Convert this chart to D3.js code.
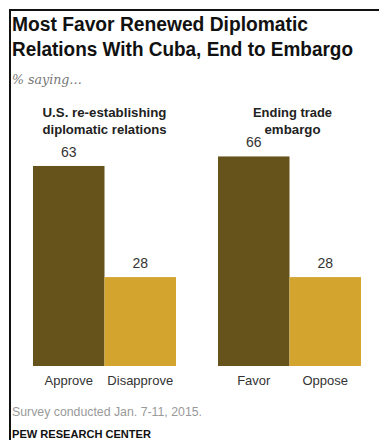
<!DOCTYPE html>
<html>
<head>
<meta charset="utf-8">
<script src="https://cdn.jsdelivr.net/npm/d3@7"></script>
<style>
  html, body { margin: 0; padding: 0; background: #fff; }
  svg { display: block; }
</style>
</head>
<body>
<svg id="chart" width="379" height="440"></svg>
<script>
// Survey results: two questions, each with a support and an opposition share (%)
const questions = ["U.S. re-establishing|diplomatic relations", "Ending trade|embargo"];
const responseLabels = [["Approve", "Disapprove"], ["Favor", "Oppose"]];
const supportValues = [63, 66];
const opposeValues = [28, 28];
const seriesColors = ["#66521b", "#d3a52f"];

const titleLines = ["Most Favor Renewed Diplomatic", "Relations With Cuba, End to Embargo"];
const subtitle = "% saying\u2026";
const note = "Survey conducted Jan. 7-11, 2015.";
const source = "PEW RESEARCH CENTER";

const svg = d3.select("#chart");
const sans = "'Liberation Sans', Arial, sans-serif";
const narrow = "'Liberation Sans Narrow', 'Liberation Sans', Arial, sans-serif";

// Squeeze a text element to a given width
function fit(sel, w) {
  sel.attr("textLength", w).attr("lengthAdjust", "spacingAndGlyphs");
}

// Frame: rule along the top and down the left side
svg.append("path")
  .attr("d", "M10,440 V10 H379")
  .attr("fill", "none")
  .attr("stroke", "#111")
  .attr("stroke-width", 2);

// Title
const titleW = [296, 341];
titleLines.forEach((t, i) => {
  svg.append("text")
    .attr("x", 12).attr("y", 31 + i * 25)
    .attr("font-family", narrow).attr("font-weight", "bold")
    .attr("font-size", 20).attr("fill", "#111")
    .text(t).call(fit, titleW[i]);
});

svg.append("text")
  .attr("x", 12).attr("y", 84)
  .attr("font-family", "'DejaVu Serif', Georgia, serif").attr("font-style", "italic")
  .attr("font-size", 12).attr("fill", "#777")
  .text(subtitle).call(fit, 70);

// Scales
const y = d3.scaleLinear().domain([0, 100]).range([366, 48.5]);
const xGroup = d3.scaleBand().domain(d3.range(questions.length)).range([33, 361])
  .paddingInner(42 / 185).paddingOuter(0);
const xInner = d3.scaleBand().domain([0, 1]).range([0, xGroup.bandwidth()]).padding(0);

const rows = questions.map((q, i) => ({
  q, i,
  bars: [
    { k: 0, v: supportValues[i], label: responseLabels[i][0] },
    { k: 1, v: opposeValues[i], label: responseLabels[i][1] }
  ]
}));

const g = svg.selectAll("g.question").data(rows).join("g")
  .attr("class", "question")
  .attr("transform", d => `translate(${xGroup(d.i)},0)`);

// Question headings
const headW = [[124, 124], [79, 56]];
g.each(function (d) {
  const lines = d.q.split("|");
  lines.forEach((ln, j) => {
    d3.select(this).append("text")
      .attr("x", xGroup.bandwidth() / 2 + (d.i === 1 ? 3 : 0))
      .attr("y", 117 + j * 17)
      .attr("text-anchor", "middle")
      .attr("font-family", sans).attr("font-weight", "bold")
      .attr("font-size", 13).attr("fill", "#222")
      .text(ln).call(fit, headW[d.i][j]);
  });
});

// Bars
g.selectAll("rect").data(d => d.bars).join("rect")
  .attr("x", b => xInner(b.k))
  .attr("width", xInner.bandwidth())
  .attr("y", b => y(b.v))
  .attr("height", b => y(0) - y(b.v))
  .attr("fill", b => seriesColors[b.k]);

// Value labels
g.selectAll("text.val").data(d => d.bars).join("text")
  .attr("class", "val")
  .attr("x", b => xInner(b.k) + xInner.bandwidth() / 2)
  .attr("y", b => y(b.v) - 9)
  .attr("text-anchor", "middle")
  .attr("font-family", sans).attr("font-size", 14).attr("fill", "#333")
  .text(b => b.v);

// Category labels below bars
g.selectAll("text.cat").data(d => d.bars).join("text")
  .attr("class", "cat")
  .attr("x", b => xInner(b.k) + xInner.bandwidth() / 2)
  .attr("y", y(0) + 19)
  .attr("text-anchor", "middle")
  .attr("font-family", sans).attr("font-size", 13).attr("fill", "#333")
  .text(b => b.label);

// Footer
svg.append("text")
  .attr("x", 12).attr("y", 416)
  .attr("font-family", sans).attr("font-size", 12.5).attr("fill", "#999")
  .text(note).call(fit, 190);

svg.append("text")
  .attr("x", 12).attr("y", 438)
  .attr("font-family", sans).attr("font-weight", "bold")
  .attr("font-size", 11).attr("fill", "#111")
  .text(source).call(fit, 139);
</script>
</body>
</html>
